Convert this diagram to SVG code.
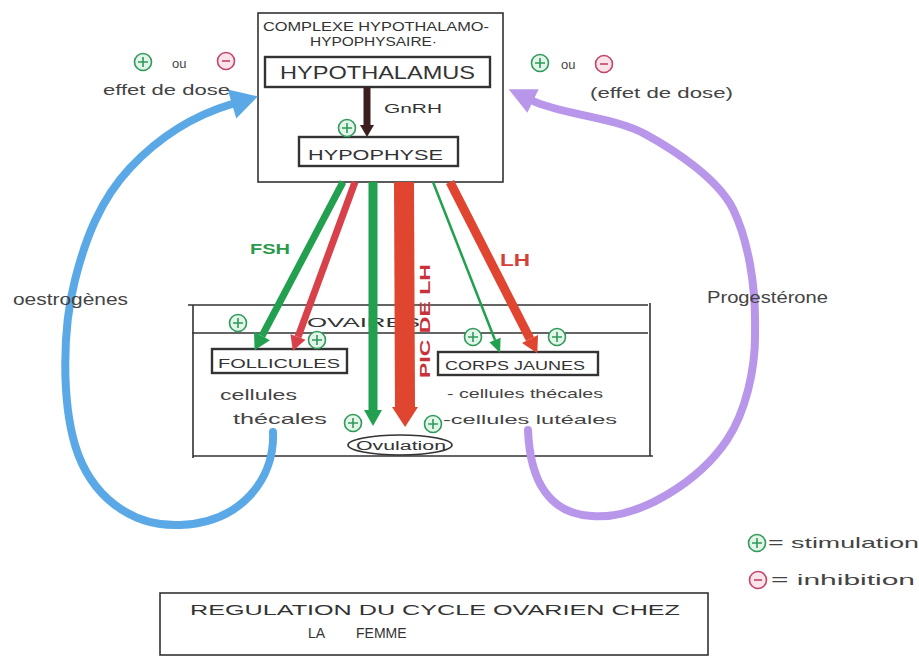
<svg xmlns="http://www.w3.org/2000/svg" xmlns:xlink="http://www.w3.org/1999/xlink" width="919" height="657" viewBox="0 0 919 657">
<style>
  .box { fill: none; stroke: #333; stroke-width: 1.6; }
  .box2 { fill: none; stroke: #333; stroke-width: 2.4; }
  .ln { stroke: #333; stroke-width: 1.6; fill: none; }
  .t { font-family: "Liberation Sans", Arial, sans-serif; fill: #333; }
  .hw { font-family: "Liberation Sans", Arial, sans-serif; fill: #444; }
  .grn { stroke: #23a04f; fill: none; }
  .red { stroke: #e0452f; fill: none; }
  .red2 { stroke: #d8404a; fill: none; }
  .blue { stroke: #5aa9e6; fill: none; stroke-width: 8; stroke-linecap: round; }
  .purple { stroke: #b896ea; fill: none; stroke-width: 8; stroke-linecap: round; }
</style>
<defs>
  <marker id="ahG" markerUnits="userSpaceOnUse" viewBox="0 -10 18 20" markerWidth="18" markerHeight="20" refX="0" refY="0" orient="auto" overflow="visible">
    <path d="M0,-9 L16,0 L0,9 z" fill="#23a04f"/>
  </marker>
  <marker id="ahGs" markerUnits="userSpaceOnUse" viewBox="0 -8 16 16" markerWidth="16" markerHeight="16" refX="0" refY="0" orient="auto" overflow="visible">
    <path d="M0,-6 L14,0 L0,6 z" fill="#23a04f"/>
  </marker>
  <marker id="ahR" markerUnits="userSpaceOnUse" viewBox="0 -10 18 20" markerWidth="18" markerHeight="20" refX="0" refY="0" orient="auto" overflow="visible">
    <path d="M0,-9 L16,0 L0,9 z" fill="#e0452f"/>
  </marker>
  <marker id="ahR2" markerUnits="userSpaceOnUse" viewBox="0 -10 18 20" markerWidth="18" markerHeight="20" refX="0" refY="0" orient="auto" overflow="visible">
    <path d="M0,-8 L15,0 L0,8 z" fill="#d8404a"/>
  </marker>
  <marker id="ahRbig" markerUnits="userSpaceOnUse" viewBox="0 -14 22 28" markerWidth="22" markerHeight="28" refX="0" refY="0" orient="auto" overflow="visible">
    <path d="M0,-13 L20,0 L0,13 z" fill="#e0452f"/>
  </marker>
  <marker id="ahBr" markerUnits="userSpaceOnUse" viewBox="0 -8 14 16" markerWidth="14" markerHeight="16" refX="0" refY="0" orient="auto" overflow="visible">
    <path d="M0,-7 L12,0 L0,7 z" fill="#3b1e1e"/>
  </marker>
  <marker id="ahB" markerUnits="userSpaceOnUse" viewBox="0 -16 30 32" markerWidth="30" markerHeight="32" refX="0" refY="0" orient="auto" overflow="visible">
    <path d="M0,-15 L27,0 L0,15 z" fill="#5aa9e6"/>
  </marker>
  <marker id="ahP" markerUnits="userSpaceOnUse" viewBox="0 -16 30 32" markerWidth="30" markerHeight="32" refX="0" refY="0" orient="auto" overflow="visible">
    <path d="M0,-13 L27,0 L0,13 z" fill="#b896ea"/>
  </marker>
  <g id="plus">
    <circle r="8.5" fill="#e3f5e8" stroke="#2f9a5a" stroke-width="1.6"/>
    <path d="M-5,0 H5 M0,-5 V5" stroke="#2f9a5a" stroke-width="1.6"/>
  </g>
  <g id="minus">
    <circle r="8.5" fill="#fbe3ea" stroke="#c2446a" stroke-width="1.6"/>
    <path d="M-4,0 H4" stroke="#c2446a" stroke-width="1.6"/>
  </g>
</defs>

<rect width="919" height="657" fill="#ffffff"/>

<!-- Top complex -->
<g id="complexe">
  <rect class="box" x="258" y="13" width="245" height="169"/>
  <text class="t" x="263" y="31" font-size="12" textLength="226" lengthAdjust="spacingAndGlyphs">COMPLEXE HYPOTHALAMO-</text>
  <text class="t" x="310" y="46" font-size="12" textLength="127" lengthAdjust="spacingAndGlyphs">HYPOPHYSAIRE·</text>
</g>
<g id="hypothalamus">
  <rect class="box2" x="265" y="57" width="225" height="30"/>
  <text class="t" x="280" y="79" font-size="18" textLength="195" lengthAdjust="spacingAndGlyphs">HYPOTHALAMUS</text>
</g>
<g id="hypophyse">
  <rect class="box2" x="299" y="137" width="159" height="29"/>
  <text class="t" x="308" y="160" font-size="15" textLength="135" lengthAdjust="spacingAndGlyphs">HYPOPHYSE</text>
</g>

<!-- Ovaries -->
<g id="ovaires">
  <path class="ln" d="M188,305 H648 M192,333 H648 M193,305 V458 M650,303 V456 M193,456 H653"/>
  <text class="t" x="307" y="327" font-size="13" textLength="113" lengthAdjust="spacingAndGlyphs">OVAIRES</text>
</g>
<g id="follicules">
  <rect class="box2" x="212" y="349" width="135" height="24"/>
  <text class="t" x="218" y="368" font-size="13" textLength="122" lengthAdjust="spacingAndGlyphs">FOLLICULES</text>
  <text class="hw" x="220" y="400" font-size="15" textLength="77" lengthAdjust="spacingAndGlyphs">cellules</text>
  <text class="hw" x="233" y="424" font-size="15" textLength="94" lengthAdjust="spacingAndGlyphs">thécales</text>
</g>
<g id="corps-jaunes">
  <rect class="box2" x="438" y="352" width="160" height="23"/>
  <text class="t" x="445" y="370" font-size="13" textLength="140" lengthAdjust="spacingAndGlyphs">CORPS JAUNES</text>
  <text class="hw" x="447" y="398" font-size="13" textLength="156" lengthAdjust="spacingAndGlyphs">- cellules thécales</text>
  <text class="hw" x="443" y="424" font-size="13" textLength="174" lengthAdjust="spacingAndGlyphs">-cellules lutéales</text>
</g>
<g id="ovulation">
  <ellipse cx="400" cy="445" rx="52" ry="10" fill="none" stroke="#333" stroke-width="1.6"/>
  <text class="t" x="356" y="450" font-size="12" textLength="90" lengthAdjust="spacingAndGlyphs">Ovulation</text>
</g>

<!-- Connectors -->
<g id="connectors">
  <line x1="367" y1="87" x2="367" y2="125" stroke="#3b1e1e" stroke-width="7" marker-end="url(#ahBr)"/>
  <line class="grn" x1="343" y1="182" x2="262" y2="336" stroke-width="7" marker-end="url(#ahG)"/>
  <line class="red2" x1="355" y1="182" x2="298" y2="337" stroke-width="7" marker-end="url(#ahR2)"/>
  <line class="grn" x1="373" y1="182" x2="373" y2="410" stroke-width="9" marker-end="url(#ahG)"/>
  <line class="red" x1="404" y1="182" x2="405" y2="407" stroke-width="20" marker-end="url(#ahRbig)"/>
  <line class="grn" x1="433" y1="182" x2="495" y2="340" stroke-width="2.5" marker-end="url(#ahGs)"/>
  <line class="red" x1="450" y1="182" x2="530" y2="339" stroke-width="9" marker-end="url(#ahR)"/>
  <path class="blue" d="M273,432 C275,480 240,523 180,525 C130,527 90,495 75,445 C62,400 62,330 75,280 C85,240 100,200 130,168 C160,136 195,115 232,104" marker-end="url(#ahB)"/>
  <path class="purple" d="M528,430 C530,482 550,514 592,516 C640,520 700,480 727,440 C745,413 756,370 755,330 C756,285 748,240 733,209 C718,179 676,151 645,134 C614,117 560,114 533,101" marker-end="url(#ahP)"/>
</g>

<!-- Connector labels -->
<g id="labels">
  <text class="t" x="384" y="113" font-size="13" textLength="58" lengthAdjust="spacingAndGlyphs">GnRH</text>
  <text x="250" y="254" font-family="Liberation Sans, Arial, sans-serif" font-size="14" font-weight="bold" fill="#2a9a4a" textLength="40" lengthAdjust="spacingAndGlyphs">FSH</text>
  <text x="500" y="266" font-family="Liberation Sans, Arial, sans-serif" font-size="16" font-weight="bold" fill="#d4403a" textLength="30" lengthAdjust="spacingAndGlyphs">LH</text>
  <text transform="translate(430,378) rotate(-90)" font-family="Liberation Sans, Arial, sans-serif" font-size="15" font-weight="bold" fill="#c8323a" textLength="114" lengthAdjust="spacingAndGlyphs">PIC DE LH</text>
  <text class="hw" x="13" y="305" font-size="16" textLength="115" lengthAdjust="spacingAndGlyphs">oestrogènes</text>
  <text class="hw" x="707" y="303" font-size="16" textLength="121" lengthAdjust="spacingAndGlyphs">Progestérone</text>
</g>

<!-- Signs -->
<g id="signs">
  <use xlink:href="#plus" x="347" y="128"/>
  <use xlink:href="#plus" x="238" y="323"/>
  <use xlink:href="#plus" x="317" y="340"/>
  <use xlink:href="#plus" x="473" y="337"/>
  <use xlink:href="#plus" x="557" y="337"/>
  <use xlink:href="#plus" x="353" y="423"/>
  <use xlink:href="#plus" x="433" y="424"/>
</g>

<g id="effet-gauche">
  <use xlink:href="#plus" x="143" y="62"/>
  <text class="hw" x="172" y="68" font-size="13">ou</text>
  <use xlink:href="#minus" x="226" y="61"/>
  <text class="hw" x="103" y="95" font-size="15" textLength="127" lengthAdjust="spacingAndGlyphs">effet de dose</text>
</g>
<g id="effet-droite">
  <use xlink:href="#plus" x="540" y="63"/>
  <text class="hw" x="561" y="69" font-size="13">ou</text>
  <use xlink:href="#minus" x="604" y="64"/>
  <text class="hw" x="590" y="98" font-size="15" textLength="143" lengthAdjust="spacingAndGlyphs">(effet de dose)</text>
</g>

<g id="legende">
  <use xlink:href="#plus" x="757" y="543"/>
  <text class="hw" x="768" y="548" font-size="15" textLength="151" lengthAdjust="spacingAndGlyphs">= stimulation</text>
  <use xlink:href="#minus" x="758" y="580"/>
  <text class="hw" x="771" y="585" font-size="15" textLength="144" lengthAdjust="spacingAndGlyphs">= inhibition</text>
</g>

<g id="titre">
  <rect class="box" x="160" y="593" width="548" height="62"/>
  <text class="t" x="190" y="615" font-size="14" textLength="490" lengthAdjust="spacingAndGlyphs">REGULATION DU CYCLE OVARIEN CHEZ</text>
  <text class="t" y="638" font-size="14"><tspan x="308">LA</tspan><tspan x="356">FEMME</tspan></text>
</g>
</svg>
